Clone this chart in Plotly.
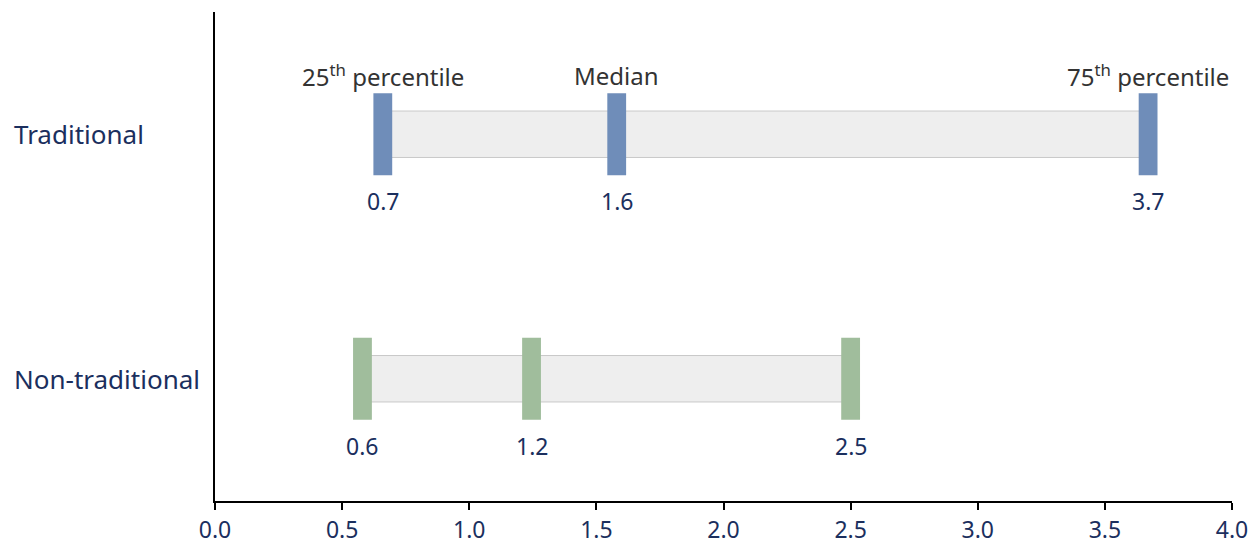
import plotly.graph_objects as go

categories = ["Traditional", "Non-traditional"]
p25 = [0.66, 0.58]
median = [1.58, 1.245]
p75 = [3.67, 2.50]
p25_labels = ["0.7", "0.6"]
median_labels = ["1.6", "1.2"]
p75_labels = ["3.7", "2.5"]
headers = ["25<sup>th</sup> percentile", "Median", "75<sup>th</sup> percentile"]
tick_vals = [0, 0.5, 1.0, 1.5, 2.0, 2.5, 3.0, 3.5, 4.0]
tick_text = ["0.0", "0.5", "1.0", "1.5", "2.0", "2.5", "3.0", "3.5", "4.0"]

row_colors = ["#6f8db9", "#a0bd9c"]
NAVY = "#1b2f5e"
FONT = "Noto Sans"
HW = 0.037  # half-width of marker rectangles (x units)

fig = go.Figure()

# light band between 25th and 75th percentile
fig.add_trace(go.Bar(
    y=categories, base=p25, x=[b - a for a, b in zip(p25, p75)],
    orientation="h", width=0.19,
    marker=dict(color="#eeeeee", line=dict(color="#c9c9c9", width=1)),
    hoverinfo="skip", showlegend=False,
))

for vals in (p25, median, p75):
    fig.add_trace(go.Bar(
        y=categories, base=[v - HW for v in vals], x=[2 * HW] * len(vals),
        orientation="h", width=0.335,
        marker=dict(color=row_colors, line=dict(width=0)),
        showlegend=False,
    ))

annotations = []
for vals, labs in ((p25, p25_labels), (median, median_labels), (p75, p75_labels)):
    for cat, v, t in zip(categories, vals, labs):
        annotations.append(dict(
            x=v, y=cat, text=t, showarrow=False, yshift=-67,
            font=dict(family=FONT, size=23, color=NAVY),
        ))

# headers above the Traditional row
header_x = [p25[0], median[0], p75[0]]
for v, h in zip(header_x, headers):
    annotations.append(dict(
        x=v, y=categories[0], text=h, showarrow=False, yshift=59,
        font=dict(family=FONT, size=24, color="#333333"),
    ))

# left-aligned category labels
for cat in categories:
    annotations.append(dict(
        x=-0.1996, xref="paper", y=cat, yref="y", text=cat, showarrow=False,
        xanchor="left", font=dict(family=FONT, size=26, color=NAVY),
    ))

fig.update_layout(
    width=1252, height=536,
    margin=dict(l=207, r=28, t=4, b=43),
    paper_bgcolor="white", plot_bgcolor="white",
    barmode="overlay",
    annotations=annotations,
    xaxis=dict(
        range=[0, 4], tickvals=tick_vals, ticktext=tick_text,
        showgrid=False, zeroline=False, automargin=False,
        showline=True, linecolor="black", linewidth=1.5,
        ticks="outside", ticklen=7, tickcolor="black", tickwidth=1.5,
        ticklabelstandoff=1,
        tickfont=dict(family=FONT, size=23, color=NAVY),
    ),
    yaxis=dict(
        type="category", categoryorder="array", categoryarray=categories,
        range=[1.5, -0.5], showticklabels=False, ticks="",
        showgrid=False, zeroline=False, automargin=False,
        showline=True, linecolor="black", linewidth=1.5,
    ),
)

fig.write_html("out.html")
